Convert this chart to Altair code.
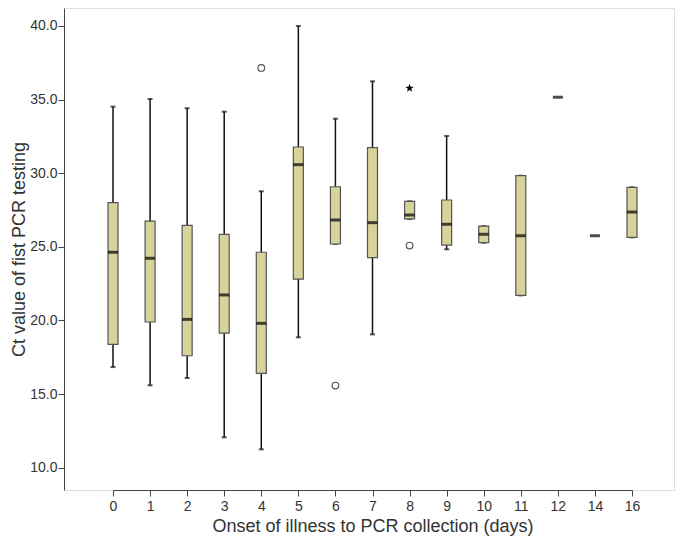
import altair as alt
import pandas as pd

days = ["0", "1", "2", "3", "4", "5", "6", "7", "8", "9", "10", "11", "12", "14", "16"]
whisk_hi = [34.52, 35.04, 34.41, 34.18, 28.77, 40.0, 33.7, 36.24, 28.09, 32.53, 26.41, 29.83, None, None, 29.04]
q3 = [28.0, 26.75, 26.46, 25.85, 24.63, 31.78, 29.08, 31.73, 28.09, 28.18, 26.41, 29.83, None, None, 29.04]
median = [24.63, 24.22, 20.07, 21.73, 19.8, 30.58, 26.82, 26.64, 27.16, 26.53, 25.85, 25.75, 35.16, 25.75, 27.36]
q1 = [18.37, 19.89, 17.6, 19.14, 16.4, 22.81, 25.19, 24.26, 26.89, 25.12, 25.28, 21.7, None, None, 25.64]
whisk_lo = [16.83, 15.59, 16.09, 12.06, 11.24, 18.85, 25.19, 19.05, 26.89, 24.83, 25.28, 21.7, None, None, 25.64]

out_days = ["4", "6", "8"]
out_vals = [37.15, 15.57, 25.08]
ext_days = ["8"]
ext_vals = [35.77]

FONT = "Liberation Sans"
BOX = "#D7D39B"

df = pd.DataFrame({"day": days, "hi": whisk_hi, "q3": q3, "med": median, "q1": q1, "lo": whisk_lo})
boxes = df.dropna()
out_df = pd.DataFrame({"day": out_days, "v": out_vals})
ext_df = pd.DataFrame({"day": ext_days, "v": ext_vals})

xenc = alt.X("day:O", sort=days,
             scale=alt.Scale(type="point", domain=days, range=[49, 568], padding=0),
             axis=alt.Axis(title="Onset of illness to PCR collection (days)", labelAngle=0,
                           labelFont=FONT, labelFontSize=14, labelColor="#333333",
                           titleFont=FONT, titleFontSize=18, titleFontWeight="normal", titleColor="#333333",
                           tickSize=6, tickColor="#444444", domainColor="#444444", labelPadding=3,
                           titlePadding=4, grid=False))
yscale = alt.Scale(domain=[8.48, 41.22], nice=False, zero=False)
yaxis = alt.Axis(title="Ct value of fist PCR testing", values=[10, 15, 20, 25, 30, 35, 40], format=".1f",
                 labelFont=FONT, labelFontSize=14, labelColor="#333333",
                 titleFont=FONT, titleFontSize=18, titleFontWeight="normal", titleColor="#333333",
                 tickSize=6, tickColor="#444444", domainColor="#444444", labelPadding=1,
                 titlePadding=1, grid=False)

base = alt.Chart(boxes)
whiskers = base.mark_rule(color="#111111", strokeWidth=1.5).encode(
    x=xenc, y=alt.Y("lo:Q", scale=yscale, axis=yaxis), y2="hi:Q")
cap_hi = base.mark_tick(color="#111111", size=5, thickness=2, orient="horizontal").encode(
    x=alt.X("day:O", sort=days), y=alt.Y("hi:Q"))
cap_lo = base.mark_tick(color="#111111", size=5, thickness=2, orient="horizontal").encode(
    x=alt.X("day:O", sort=days), y=alt.Y("lo:Q"))
box = base.mark_bar(size=10, color=BOX, stroke="#555555", strokeWidth=1.2).encode(
    x=alt.X("day:O", sort=days), y=alt.Y("q1:Q"), y2="q3:Q")
med = alt.Chart(df).mark_tick(color="#000000", size=10, thickness=3, orient="horizontal").encode(
    x=alt.X("day:O", sort=days), y=alt.Y("med:Q"))
outl = alt.Chart(out_df).mark_point(shape="circle", filled=False, color="#111111", size=45, strokeWidth=1.2).encode(
    x=alt.X("day:O", sort=days), y=alt.Y("v:Q"))
star = "M0,-1L0.235,-0.324L0.951,-0.309L0.38,0.124L0.588,0.809L0,0.4L-0.588,0.809L-0.38,0.124L-0.951,-0.309L-0.235,-0.324Z"
ext = alt.Chart(ext_df).mark_point(shape=star, filled=True, color="#000000", opacity=1, size=80).encode(
    x=alt.X("day:O", sort=days), y=alt.Y("v:Q"))

chart = alt.layer(whiskers, cap_hi, cap_lo, box, med, outl, ext).properties(
    width=610, height=482,
    autosize=alt.AutoSizeParams(type="none"),
    padding={"left": 56, "top": 0, "right": 3, "bottom": 50},
).configure_view(stroke="#888888", strokeWidth=1.2).configure(background="white")

chart.save("out.html", embed_options={"renderer": "svg", "actions": False})
